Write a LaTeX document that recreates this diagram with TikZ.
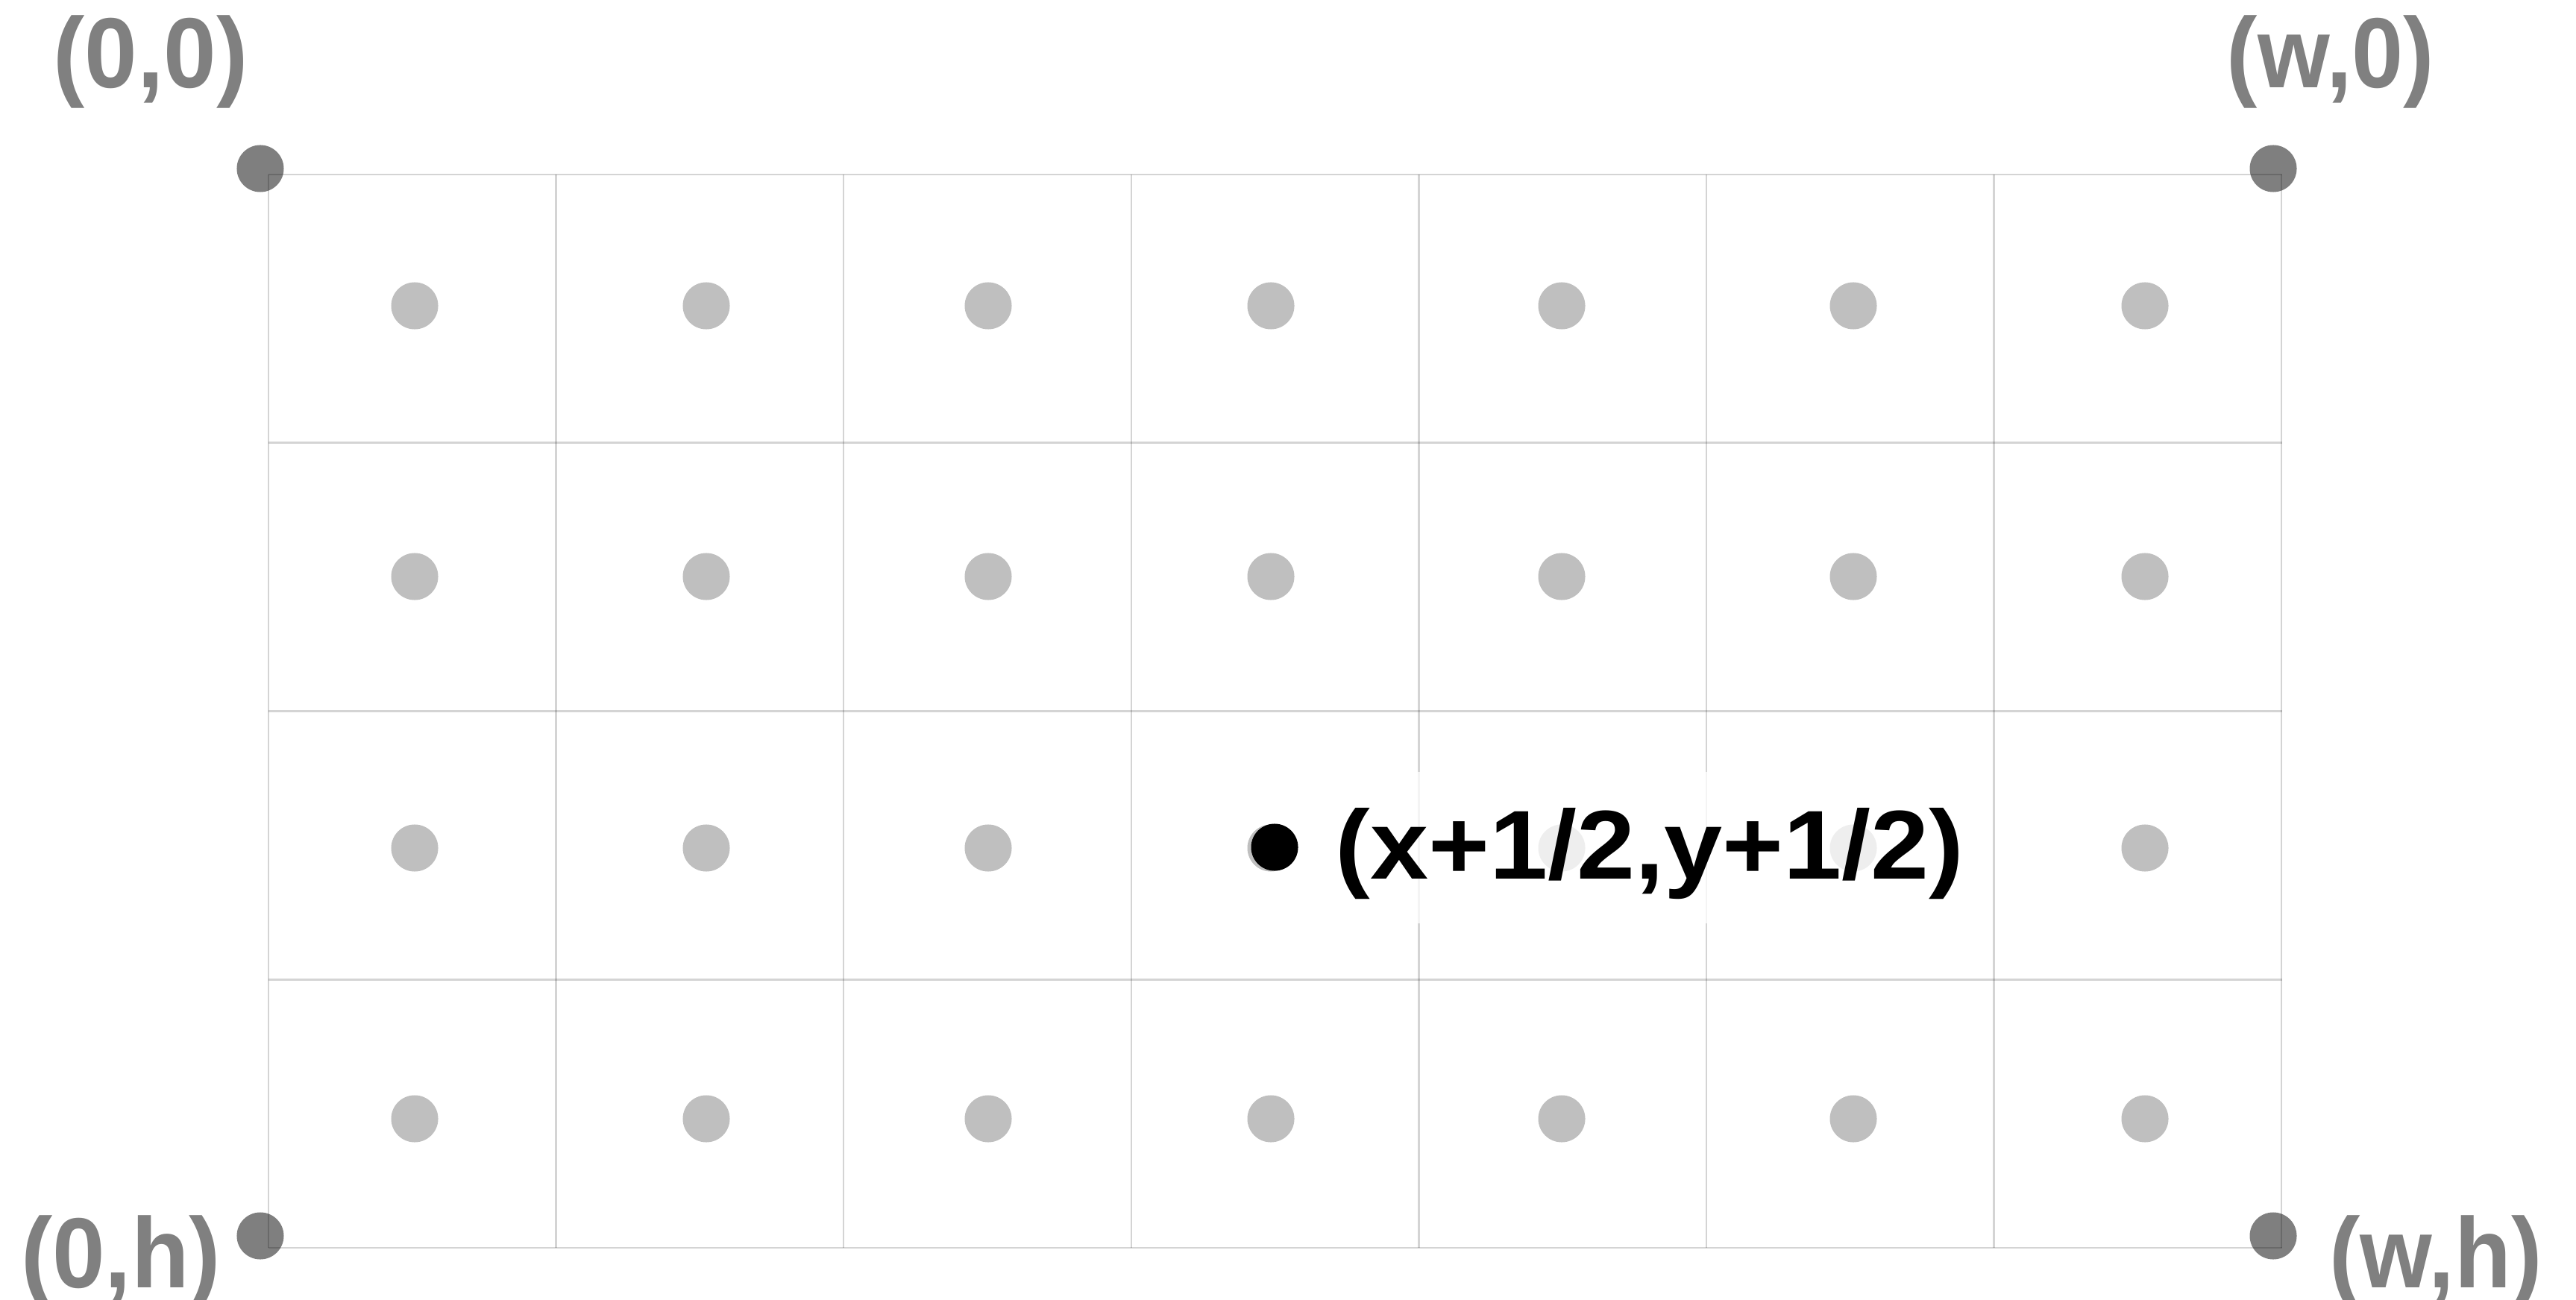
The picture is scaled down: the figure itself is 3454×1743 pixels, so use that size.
\documentclass[tikz,border=0pt]{standalone}
\usepackage{fontspec}
\setmainfont{Liberation Sans}
\definecolor{labelgray}{HTML}{808080}
\begin{document}
\begin{tikzpicture}[x=0.01cm,y=-0.01cm,
  gridline/.style={draw=black, draw opacity=0.17, line width=0.025cm},
  cellpt/.style={circle, fill=black, fill opacity=0.25, draw=none, inner sep=0pt, minimum size=0.63cm},
  cornerpt/.style={circle, fill=black, fill opacity=0.5, draw=none, inner sep=0pt, minimum size=0.63cm},
  markpt/.style={circle, fill=black, draw=none, inner sep=0pt, minimum size=0.63cm},
  cornerlbl/.style={text=labelgray, font=\fontsize{38}{40}\selectfont\bfseries, anchor=base, inner sep=0pt},
  pointlbl/.style={anchor=base west, fill=white, fill opacity=0.75, text opacity=1, text=black,
    inner xsep=0.12cm, inner ysep=0pt, text height=1.43cm, text depth=0.6cm,
    font=\fontsize{37.3}{40}\selectfont\bfseries},
]
\path[use as bounding box, fill=white] (0,0) rectangle (3454,1743);

% grid
\foreach \i in {0,...,7}
  \draw[gridline] ({360+385.6*\i},234) -- ({360+385.6*\i},1673);
\foreach \j in {0,...,4}
  \draw[gridline] (360,{234+359.75*\j}) -- (3060,{234+359.75*\j});

% cell centre points
\foreach \x [count=\i] in {556,947,1325,1704,2094,2485,2876}
  \foreach \y [count=\j] in {410,773,1137,1500}
    \node[cellpt] (c\i\j) at (\x,\y) {};

% corner points
\node[cornerpt] (tl) at (349,226) {};
\node[cornerpt] (tr) at (3048,226) {};
\node[cornerpt] (bl) at (349,1657) {};
\node[cornerpt] (br) at (3048,1657) {};

% corner labels
\node[cornerlbl] (ltl) at (202,118) {\scalebox{0.95}[1]{(0,0)}};
\node[cornerlbl] (ltr) at (3125,118) {\scalebox{0.93}[1]{(w,0)}};
\node[cornerlbl] (lbl) at (162,1726) {\scalebox{0.95}[1]{(0,h)}};
\node[cornerlbl] (lbr) at (3266,1726) {\scalebox{0.93}[1]{(w,h)}};

% highlighted point
\node[markpt] (pt) at (1709,1136) {};
\node[pointlbl] (ptl) at (1778,1178) {\scalebox{1.07}[1]{(x+1/2,y+1/2)}};
\end{tikzpicture}
\end{document}
